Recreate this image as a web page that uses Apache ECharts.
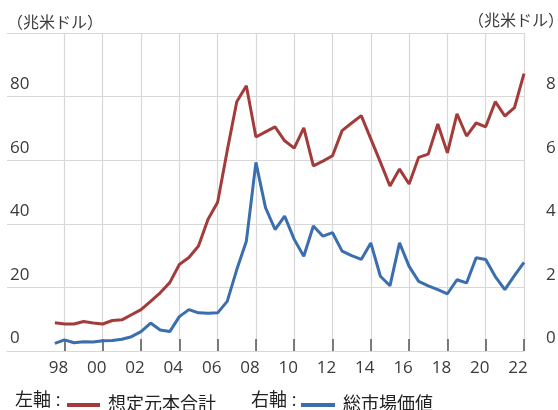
<!DOCTYPE html>
<html>
<head>
<meta charset="utf-8">
<script src="https://cdn.jsdelivr.net/npm/echarts@6/dist/echarts.min.js"></script>
<style>
  html, body { margin: 0; padding: 0; background: #fff; }
  #chart { width: 558px; height: 410px; }
</style>
</head>
<body>
<div id="chart"></div>
<script>
// 半期データ (6月末, 12月末)  1998/6 〜 2022/12
const periods = [];
for (let y = 1998; y <= 2022; y++) {
  periods.push(y - 0.5); // 6月末
  periods.push(y);       // 12月末
}

// 左軸: 想定元本合計 (兆米ドル)
const notional = [
  8.9, 8.5, 8.5, 9.3, 8.8, 8.5, 9.6, 9.8, 11.4, 13.0,
  15.6, 18.3, 21.5, 27.2, 29.4, 33.0, 41.4, 46.8, 63.0, 78.4,
  83.4, 67.3, 68.9, 70.5, 66.1, 63.8, 70.2, 58.2, 59.7, 61.4,
  69.3, 71.7, 74.0, 66.7, 59.4, 51.9, 57.2, 52.5, 60.9, 61.9,
  71.4, 62.3, 74.6, 67.6, 71.7, 70.5, 78.4, 73.9, 76.5, 87.2
];

// 右軸: 総市場価値 (兆米ドル)
const marketValue = [
  0.24, 0.35, 0.26, 0.29, 0.28, 0.32, 0.33, 0.37, 0.45, 0.61,
  0.88, 0.66, 0.61, 1.08, 1.30, 1.20, 1.19, 1.20, 1.56, 2.56,
  3.45, 5.93, 4.51, 3.82, 4.24, 3.51, 2.98, 3.93, 3.61, 3.72,
  3.14, 3.00, 2.88, 3.40, 2.35, 2.05, 3.40, 2.66, 2.19, 2.05,
  1.93, 1.80, 2.24, 2.14, 2.93, 2.88, 2.34, 1.93, 2.37, 2.79
];

const tickYears = [1998, 2000, 2002, 2004, 2006, 2008, 2010, 2012, 2014, 2016, 2018, 2020, 2022];
const leftTicks = [0, 20, 40, 60, 80];
const rightTicks = [0, 2, 4, 6, 8];

const myChart = echarts.init(document.getElementById('chart'));

const labelColor = '#3a3a3a';
const gridColor = '#d8d8d8';
const font = '"Open Sans", "Noto Sans CJK JP", sans-serif';

const option = {
  animation: false,
  textStyle: { fontFamily: font },
  grid: {
    left: 7,
    right: 34,
    top: 33,
    bottom: 59,
    outerBoundsMode: 'none'
  },
  graphic: [
    { type: 'text', left: 7, top: 15, style: { text: '（兆米ドル）', fontSize: 16, fill: labelColor, fontFamily: font } },
    { type: 'text', left: 468, top: 13, style: { text: '（兆米ドル）', fontSize: 16, fill: labelColor, fontFamily: font } },
    { type: 'text', left: 15, top: 392, style: { text: '左軸 :', fontSize: 18, fill: '#222', fontFamily: font } },
    { type: 'text', left: 251, top: 392, style: { text: '右軸 :', fontSize: 18, fill: '#222', fontFamily: font } }
  ],
  legend: [
    {
      data: ['想定元本合計'],
      left: 62,
      top: 391,
      icon: 'rect',
      itemWidth: 33,
      itemHeight: 4,
      textStyle: { fontSize: 18, color: '#222', fontFamily: font, padding: [0, 0, 0, 3] }
    },
    {
      data: ['総市場価値'],
      left: 296,
      top: 391,
      icon: 'rect',
      itemWidth: 34,
      itemHeight: 4,
      textStyle: { fontSize: 18, color: '#222', fontFamily: font, padding: [0, 0, 0, 3] }
    }
  ],
  xAxis: {
    type: 'value',
    min: 1995,
    max: 2022,
    axisLine: { show: true, lineStyle: { color: gridColor, width: 1.2 } },
    axisTick: {
      show: true,
      inside: true,
      length: 12,
      customValues: tickYears,
      lineStyle: { color: '#555', width: 1.5 }
    },
    axisLabel: {
      customValues: tickYears,
      formatter: v => String(v % 100).padStart(2, '0'),
      color: labelColor,
      fontSize: 17,
      margin: 9,
      padding: [0, 12, 0, 0]
    },
    splitLine: { show: true, lineStyle: { color: gridColor, width: 1.2 } }
  },
  yAxis: [
    {
      type: 'value',
      min: 0,
      max: 100,
      interval: 20,
      position: 'left',
      axisLine: { show: false },
      axisTick: { show: false },
      axisLabel: {
        inside: true,
        margin: 3,
        verticalAlign: 'bottom',
        padding: [0, 0, 4, 0],
        color: labelColor,
        fontSize: 17,
        formatter: v => leftTicks.includes(v) ? String(v) : ''
      },
      splitLine: { show: true, lineStyle: { color: gridColor, width: 1.2 } }
    },
    {
      type: 'value',
      min: 0,
      max: 10,
      interval: 2,
      position: 'right',
      axisLine: { show: false },
      axisTick: { show: false },
      axisLabel: {
        margin: 22,
        align: 'left',
        verticalAlign: 'bottom',
        padding: [0, 0, 4, 0],
        color: labelColor,
        fontSize: 17,
        formatter: v => rightTicks.includes(v) ? String(v) : ''
      },
      splitLine: { show: false }
    }
  ],
  series: [
    {
      name: '想定元本合計',
      type: 'line',
      yAxisIndex: 0,
      data: periods.map((p, i) => [p, notional[i]]),
      showSymbol: false,
      lineStyle: { color: '#a33b3b', width: 3 },
      itemStyle: { color: '#a33b3b' }
    },
    {
      name: '総市場価値',
      type: 'line',
      yAxisIndex: 1,
      data: periods.map((p, i) => [p, marketValue[i]]),
      showSymbol: false,
      lineStyle: { color: '#3a6eae', width: 3 },
      itemStyle: { color: '#3a6eae' }
    }
  ]
};

myChart.setOption(option);

window.addEventListener('resize', function () {
  myChart.resize();
});
</script>
</body>
</html>
